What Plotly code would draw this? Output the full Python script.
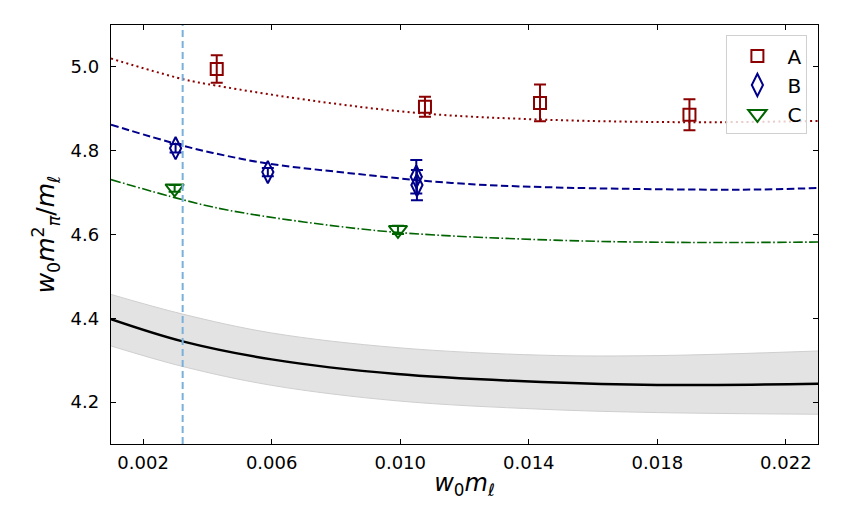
import plotly.graph_objects as go

# ---- data points ----
a_x = [0.00429, 0.01077, 0.01435, 0.01900]
a_y = [4.995, 4.905, 4.914, 4.886]
a_err = [0.033, 0.024, 0.044, 0.037]

b_x = [0.00301, 0.00588, 0.01050, 0.01052]
b_y = [4.806, 4.749, 4.738, 4.718]
b_err = [0.010, 0.010, 0.040, 0.036]

c_x = [0.00298, 0.00993]
c_y = [4.710, 4.611]
c_err = [0.008, 0.010]

# ---- fit curves ----
fa_x = [0.001, 0.00323, 0.0043, 0.0075, 0.0107, 0.0145, 0.019, 0.023]
fa_y = [5.020, 4.971, 4.955, 4.917, 4.889, 4.874, 4.868, 4.871]

fb_x = [0.001, 0.00323, 0.00458, 0.0059, 0.008, 0.0116, 0.0145, 0.0206, 0.023]
fb_y = [4.862, 4.812, 4.788, 4.769, 4.750, 4.723, 4.713, 4.707, 4.711]

fc_x = [0.001, 0.00323, 0.00458, 0.007, 0.0099, 0.015, 0.019, 0.023]
fc_y = [4.731, 4.683, 4.659, 4.630, 4.605, 4.586, 4.581, 4.582]

k_x = [0.001, 0.00323, 0.006, 0.0099, 0.0144, 0.018, 0.023]
k_y = [4.398, 4.345, 4.302, 4.267, 4.248, 4.241, 4.244]
k_up = [4.457, 4.410, 4.365, 4.330, 4.312, 4.311, 4.322]
k_lo = [4.334, 4.285, 4.240, 4.203, 4.183, 4.175, 4.171]

phys_x = 0.00323

x_ticks = [0.002, 0.006, 0.010, 0.014, 0.018, 0.022]
y_ticks = [4.2, 4.4, 4.6, 4.8, 5.0]

RED, BLUE, GREEN = "#8B0000", "#00008B", "#006400"

fig = go.Figure()

# band
fig.add_trace(go.Scatter(x=k_x, y=k_up, mode="lines", line=dict(color="#cfcfcf", width=1, shape="spline"),
                         showlegend=False, hoverinfo="skip"))
fig.add_trace(go.Scatter(x=k_x, y=k_lo, mode="lines", line=dict(color="#cfcfcf", width=1, shape="spline"),
                         fill="tonexty", fillcolor="rgba(200,200,200,0.5)", showlegend=False, hoverinfo="skip"))
fig.add_trace(go.Scatter(x=k_x, y=k_y, mode="lines", line=dict(color="black", width=2.5, shape="spline"),
                         showlegend=False))

# fit curves
fig.add_trace(go.Scatter(x=fa_x, y=fa_y, mode="lines", line=dict(color=RED, width=2, dash="2px,3.3px", shape="spline"),
                         showlegend=False))
fig.add_trace(go.Scatter(x=fb_x, y=fb_y, mode="lines", line=dict(color=BLUE, width=2, dash="7.5px,3.5px", shape="spline"),
                         showlegend=False))
fig.add_trace(go.Scatter(x=fc_x, y=fc_y, mode="lines", line=dict(color=GREEN, width=1.6, dash="9.6px,2.4px,1.6px,2.4px", shape="spline"),
                         showlegend=False))

# data
fig.add_trace(go.Scatter(x=a_x, y=a_y, mode="markers", name="A",
                         marker=dict(symbol="square-open", size=12, color=RED, line=dict(width=2, color=RED)),
                         error_y=dict(type="data", array=a_err, color=RED, thickness=2, width=6)))
fig.add_trace(go.Scatter(x=b_x, y=b_y, mode="markers", name="B",
                         marker=dict(symbol="diamond-tall-open", size=16, color=BLUE, line=dict(width=2, color=BLUE)),
                         error_y=dict(type="data", array=b_err, color=BLUE, thickness=2, width=6)))
fig.add_trace(go.Scatter(x=c_x, y=c_y, mode="markers", name="C",
                         marker=dict(symbol="triangle-down-open", size=16, color=GREEN, line=dict(width=2, color=GREEN)),
                         error_y=dict(type="data", array=c_err, color=GREEN, thickness=2, width=6)))

fig.add_shape(type="line", x0=phys_x, x1=phys_x, y0=0, y1=1, xref="x", yref="paper",
              line=dict(color="#7ab0d9", width=2, dash="7px,4px"))

axis_common = dict(showline=True, linecolor="black", linewidth=1.3, mirror="ticks", ticks="inside",
                   ticklen=5, tickwidth=1, tickcolor="black", showgrid=False, zeroline=False,
                   tickfont=dict(family="DejaVu Sans", size=18, color="black"))

fig.update_xaxes(range=[0.001, 0.023], tickvals=x_ticks, ticktext=[f"{v:.3f}" for v in x_ticks],
                 ticklabelstandoff=2,
                 title=dict(text="<i>w</i><sub>0</sub><i>m</i><sub><i>ℓ</i></sub>",
                            font=dict(family="DejaVu Sans", size=24, color="black"), standoff=2),
                 **axis_common)
fig.update_yaxes(range=[4.1, 5.1], tickvals=y_ticks, ticktext=[f"{v:.1f}" for v in y_ticks],
                 ticklabelstandoff=7,
                 title=dict(text="<i>w</i><sub>0</sub><i>m</i><sup>2</sup><sub><i>π</i></sub>/<i>m</i><sub><i>ℓ</i></sub>",
                            font=dict(family="DejaVu Sans", size=25, color="black"), standoff=8),
                 **axis_common)

fig.update_layout(
    width=831, height=514,
    margin=dict(l=103, r=21, t=17, b=78),
    paper_bgcolor="white", plot_bgcolor="white",
    legend=dict(x=0.985, y=0.975, xanchor="right", yanchor="top", traceorder="normal",
                bordercolor="#d0d0d0", borderwidth=1, bgcolor="rgba(255,255,255,0.8)",
                font=dict(family="DejaVu Sans", size=20, color="black"),
                itemwidth=50),
    showlegend=True,
)

fig.write_html("out.html")
